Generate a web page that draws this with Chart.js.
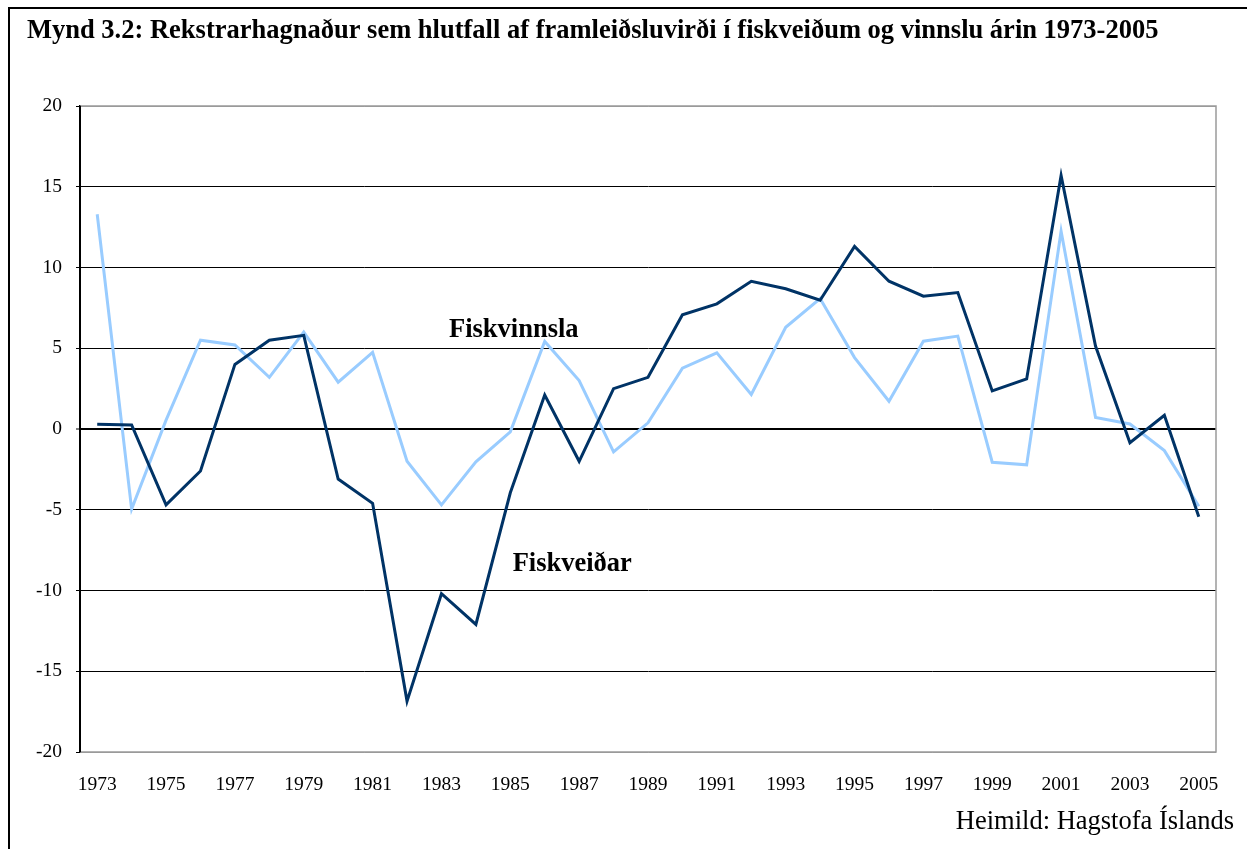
<!DOCTYPE html>
<html>
<head>
<meta charset="utf-8">
<script src="https://cdn.jsdelivr.net/npm/chart.js@4.4.1/dist/chart.umd.min.js"></script>
<style>
html,body{margin:0;padding:0;background:#fff;}
#wrap{position:relative;width:1247px;height:849px;}
</style>
</head>
<body>
<div id="wrap"><canvas id="c" width="1247" height="849"></canvas></div>
<script>
const years = [1973,1974,1975,1976,1977,1978,1979,1980,1981,1982,1983,1984,1985,1986,1987,1988,1989,1990,1991,1992,1993,1994,1995,1996,1997,1998,1999,2000,2001,2002,2003,2004,2005];
const fiskveidar = [0.3,0.25,-4.7,-2.6,4.0,5.5,5.8,-3.1,-4.6,-16.85,-10.2,-12.1,-3.95,2.1,-2.0,2.5,3.2,7.07,7.75,9.15,8.68,7.97,11.3,9.15,8.22,8.45,2.36,3.1,15.7,5.14,-0.85,0.85,-5.43];
const fiskvinnsla = [13.3,-4.96,0.55,5.5,5.2,3.2,6.0,2.9,4.75,-2.0,-4.7,-2.03,-0.18,5.42,3.0,-1.42,0.38,3.77,4.72,2.14,6.3,8.08,4.42,1.72,5.44,5.75,-2.06,-2.22,12.25,0.72,0.31,-1.34,-4.78];
const yTicks = [-20,-15,-10,-5,0,5,10,15,20];
const titleText = 'Mynd 3.2: Rekstrarhagnaður sem hlutfall af framleiðsluvirði í fiskveiðum og vinnslu árin 1973-2005';
const sourceText = 'Heimild: Hagstofa Íslands';
const seriesNames = ['Fiskveiðar','Fiskvinnsla'];

const serif = '"Liberation Serif", "Times New Roman", serif';

const decor = {
  id:'decor',
  beforeDraw(chart){
    const c = chart.ctx;
    c.save();
    c.fillStyle='#fff';
    c.fillRect(0,0,chart.width,chart.height);
    c.strokeStyle='#000';
    c.lineWidth=2;
    c.beginPath();
    c.moveTo(9,849);c.lineTo(9,8);c.lineTo(1247,8);
    c.stroke();
    c.fillStyle='#000';
    c.font='bold 26.5px '+serif;
    c.textBaseline='middle';
    c.textAlign='left';
    c.fillText(titleText,27,31);
    c.font='26.5px '+serif;
    c.textAlign='right';
    c.fillText(sourceText,1234,822);
    c.restore();
  },
  afterDatasetsDraw(chart){
    const c = chart.ctx, a = chart.chartArea;
    const xs = chart.scales.x, ys = chart.scales.y;
    c.save();
    c.strokeStyle='#9a9a9a';
    c.lineWidth=1.5;
    c.beginPath();
    c.moveTo(a.left,a.top);c.lineTo(a.right,a.top);c.lineTo(a.right,a.bottom);c.lineTo(a.left,a.bottom);
    c.stroke();
    c.strokeStyle='#000';
    c.lineWidth=2;
    c.beginPath();
    c.moveTo(a.left,a.top);c.lineTo(a.left,a.bottom);
    c.stroke();
    c.fillStyle='#000';
    c.font='bold 26.5px '+serif;
    c.textAlign='center';
    c.textBaseline='middle';
    c.fillText(seriesNames[1], xs.getPixelForValue(12.1), ys.getPixelForValue(6.15));
    c.fillText(seriesNames[0], xs.getPixelForValue(13.8), ys.getPixelForValue(-8.35));
    c.restore();
  }
};

new Chart(document.getElementById('c'),{
  type:'line',
  data:{
    labels: years.map(String),
    datasets:[
      {label:seriesNames[0],data:fiskveidar,borderColor:'#003366',borderWidth:3,pointRadius:0,tension:0,fill:false},
      {label:seriesNames[1],data:fiskvinnsla,borderColor:'#99ccff',borderWidth:3,pointRadius:0,tension:0,fill:false}
    ]
  },
  options:{
    responsive:false,
    animation:false,
    layout:{padding:{left:0,top:106,right:31,bottom:0}},
    plugins:{legend:{display:false},tooltip:{enabled:false},title:{display:false}},
    scales:{
      x:{
        offset:true,
        grid:{display:false,drawTicks:false},
        border:{display:false},
        ticks:{
          autoSkip:false,maxRotation:0,padding:21,color:'#000',
          font:{family:serif,size:19.5},
          callback:function(v,i){return i%2===0?years[i]:'';}
        },
        afterFit(s){s.height=97;}
      },
      y:{
        min:-20,max:20,
        afterBuildTicks(s){s.ticks=yTicks.map(v=>({value:v}));},
        grid:{
          color:ctx=>(ctx.tick&&(ctx.tick.value===20||ctx.tick.value===-20))?'#9a9a9a':'#000',
          lineWidth:ctx=>(ctx.tick&&ctx.tick.value===0)?2:1,
          tickColor:'#000',tickLength:4,tickWidth:1
        },
        border:{display:true,color:'#000',width:2},
        ticks:{color:'#000',padding:14,font:{family:serif,size:19.5}},
        afterFit(s){s.width=80;}
      }
    }
  },
  plugins:[decor]
});
</script>
</body>
</html>
